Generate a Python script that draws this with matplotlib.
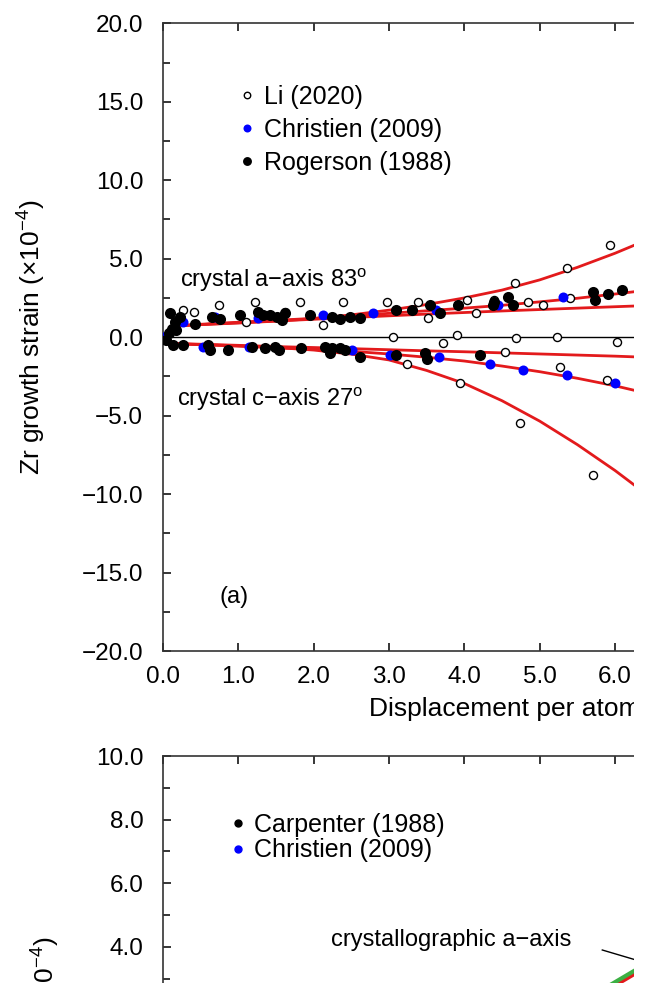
import numpy as np
import matplotlib
matplotlib.use("Agg")
import matplotlib.pyplot as plt
from matplotlib.patches import Rectangle
from matplotlib.ticker import FuncFormatter

plt.rcParams['font.family'] = ['Liberation Sans', 'DejaVu Sans']
plt.rcParams['mathtext.fontset'] = 'custom'
plt.rcParams['mathtext.rm'] = 'Liberation Sans'
plt.rcParams['mathtext.it'] = 'Liberation Sans:italic'

# ---- panel (a) data ----
# Li (2020), open circles
li_x = [0.27, 0.41, 0.74, 1.11, 1.22, 1.62, 1.82, 2.13, 2.39, 2.97, 3.39, 3.52,
        4.03, 4.16, 4.39, 4.67, 4.85, 5.05, 5.36, 5.40, 5.93,
        3.06, 3.72, 3.90, 4.69, 5.23, 6.02,
        3.24, 3.94, 4.54, 5.27, 5.89, 4.74, 5.71]
li_y = [1.72, 1.61, 2.04, 0.98, 2.25, 1.61, 2.25, 0.76, 2.25, 2.25, 2.25, 1.25,
        2.36, 1.51, 2.40, 3.42, 2.25, 2.04, 4.38, 2.47, 5.86,
        0.02, -0.40, 0.13, -0.08, 0.02, -0.30,
        -1.68, -2.95, -0.93, -1.89, -2.74, -5.50, -8.80]

# Christien (2009), blue
chr_x = [0.0, 0.27, 0.53, 0.70, 1.14, 1.27, 2.13, 2.51, 2.79, 3.01, 3.63, 3.66,
         4.34, 4.45, 4.78, 5.31, 5.36, 6.00]
chr_y = [0.0, 0.98, -0.62, 1.30, -0.62, 1.19, 1.40, -0.83, 1.51, -1.15, 1.72, -1.25,
         -1.68, 2.04, -2.10, 2.57, -2.42, -2.95]

# Rogerson (1988), black
rog_x = [0.08, 0.10, 0.12, 0.16, 0.18, 0.23, 0.43, 0.65, 0.76, 1.03, 1.27, 1.33,
         1.42, 1.51, 1.58, 1.62, 1.95, 2.24, 2.35, 2.48, 2.62, 3.10, 3.30, 3.55,
         3.68, 3.92, 4.38, 4.39, 4.58, 4.65, 5.71, 5.73, 5.91, 6.09,
         0.05, 0.14, 0.27, 0.60, 0.63, 0.87, 1.18, 1.36, 1.49, 1.54, 1.84, 2.15,
         2.22, 2.24, 2.35, 2.42, 2.62, 3.10, 3.48, 3.50, 4.21]
rog_y = [0.25, 1.51, 0.55, 0.98, 0.45, 1.29, 0.87, 1.29, 1.13, 1.40, 1.61, 1.40,
         1.40, 1.29, 1.08, 1.51, 1.40, 1.29, 1.13, 1.29, 1.19, 1.72, 1.76, 2.04,
         1.51, 2.04, 2.04, 2.25, 2.57, 2.04, 2.89, 2.36, 2.78, 3.00,
         -0.19, -0.51, -0.51, -0.51, -0.83, -0.83, -0.62, -0.72, -0.62, -0.83, -0.72, -0.62,
         -1.04, -0.72, -0.72, -0.83, -1.25, -1.15, -1.04, -1.36, -1.15]

# fitted curves
fit_x = [0.15, 0.5, 1.0, 1.5, 2.0, 2.5, 3.0, 3.5, 4.0, 4.5, 5.0, 5.5, 6.0, 6.4]
fit_a_li = [0.72, 0.80, 0.90, 1.02, 1.18, 1.42, 1.72, 2.08, 2.50, 3.00, 3.65, 4.45, 5.35, 6.15]
fit_a_rog = [0.72, 0.82, 0.95, 1.07, 1.20, 1.35, 1.52, 1.68, 1.85, 2.03, 2.25, 2.48, 2.75, 2.98]
fit_a_chr = [0.70, 0.80, 0.92, 1.03, 1.14, 1.25, 1.36, 1.47, 1.57, 1.67, 1.76, 1.85, 1.94, 2.01]
fit_c_rog = [-0.40, -0.45, -0.52, -0.60, -0.66, -0.73, -0.80, -0.87, -0.93, -1.00, -1.07, -1.14, -1.21, -1.28]
fit_c_chr = [-0.42, -0.48, -0.57, -0.67, -0.78, -0.90, -1.07, -1.28, -1.52, -1.84, -2.20, -2.62, -3.10, -3.55]
fit_c_li = [-0.42, -0.47, -0.55, -0.66, -0.82, -1.08, -1.45, -2.12, -2.95, -4.05, -5.35, -6.85, -8.50, -9.95]

# ---- panel (b) data (visible part only) ----
b_black_x = [5.83, 6.40]
b_black_y = [3.90, 3.50]
b_green_x = [5.90, 6.40]
b_green_y = [2.75, 3.45]
b_red_x = [5.90, 6.40]
b_red_y = [2.65, 3.35]

red = '#e31a1c'
fmt = FuncFormatter(lambda v, p: f'{v:.1f}'.replace('-', '\u2212'))


def style_axes(a):
    a.xaxis.set_major_formatter(fmt)
    a.yaxis.set_major_formatter(fmt)
    a.tick_params(axis='both', which='both', direction='in', top=True, right=True,
                  width=1.1, labelsize=17.5)
    a.tick_params(axis='both', which='major', length=6)
    a.tick_params(axis='y', which='minor', length=5)
    a.tick_params(axis='y', pad=14)
    a.tick_params(axis='x', pad=11)
    for s in a.spines.values():
        s.set_linewidth(1.2)
        s.set_color('#333333')


fig = plt.figure(figsize=(6.49, 9.83), dpi=100)

# ---------- panel (a) ----------
ax = fig.add_axes([0.2507, 0.3377, 1.1618, 0.6386])
ax.axhline(0, color='black', lw=1.0, zorder=2)
for fy in [fit_a_li, fit_a_rog, fit_a_chr, fit_c_rog, fit_c_chr, fit_c_li]:
    ax.plot(fit_x, fy, color=red, lw=2.0, zorder=2)
ax.plot(li_x, li_y, 'o', ms=5.8, mfc='white', mec='black', mew=1.0,
        label='Li (2020)', zorder=3)
ax.plot(chr_x, chr_y, 'o', ms=7.2, mfc='#0000ff', mec='#0000ff', mew=0,
        label='Christien (2009)', zorder=4)
ax.plot(rog_x, rog_y, 'o', ms=8.0, mfc='black', mec='black', mew=0,
        label='Rogerson (1988)', zorder=5)

ax.set_xlim(0, 10)
ax.set_ylim(-20, 20)
ax.set_xticks(np.arange(0, 7, 1))
ax.set_yticks(np.arange(-20, 21, 5))
ax.set_yticks(np.arange(-20, 21, 2.5), minor=True)
style_axes(ax)
ax.set_ylabel('Zr growth strain (\u00d710$^{\u22124}$)', fontsize=19, labelpad=24)
ax.set_xlabel('Displacement per atom (dpa)', fontsize=19, labelpad=6)

ax.text(0.23, 3.2, 'crystal a\u2212axis 83$^{\\mathrm{o}}$', fontsize=17, va='baseline')
ax.text(0.19, -4.4, 'crystal c\u2212axis 27$^{\\mathrm{o}}$', fontsize=17, va='baseline')
ax.text(0.95, -16.57, '(a)', fontsize=17, ha='center', va='center')

ax.legend(loc='upper left', bbox_to_anchor=(0.1025, 0.902), frameon=False,
          fontsize=18, handlelength=0.6, handletextpad=0.35,
          labelspacing=0.36, borderpad=0, borderaxespad=0, markerscale=0.8)

# ---------- panel (b) ----------
bx = fig.add_axes([0.2507, -0.4161, 1.1618, 0.647])
bx.plot(b_black_x, b_black_y, color='black', lw=1.0)
bx.plot(b_red_x, b_red_y, color=red, lw=3)
bx.plot(b_green_x, b_green_y, color='#3cb043', lw=3)
bx.plot([], [], 'o', ms=5, color='black', label='Carpenter (1988)')
bx.plot([], [], 'o', ms=5, color='#0000ff', label='Christien (2009)')
bx.set_xlim(0, 10)
bx.set_ylim(-10, 10)
bx.set_xticks(np.arange(0, 7, 1))
bx.set_yticks(np.arange(4, 11, 2))
bx.set_yticks(np.arange(3, 11, 1), minor=True)
style_axes(bx)
bx.tick_params(axis='x', labelbottom=False)
bx.set_ylabel('Zr growth strain (\u00d710$^{\u22124}$)', fontsize=19, labelpad=24)
bx.text(2.23, 4.03, 'crystallographic a\u2212axis', fontsize=17, va='baseline')
bx.legend(loc='upper left', bbox_to_anchor=(0.0899, 0.911), frameon=False,
          fontsize=18, handlelength=0.6, handletextpad=0.35,
          labelspacing=0.07, borderpad=0, borderaxespad=0)

# the source image is cut off at the right
fig.add_artist(Rectangle((634 / 649, 0), 1, 1, transform=fig.transFigure,
                         facecolor='white', edgecolor='none', zorder=100))

fig.savefig('out.png', dpi=100)
